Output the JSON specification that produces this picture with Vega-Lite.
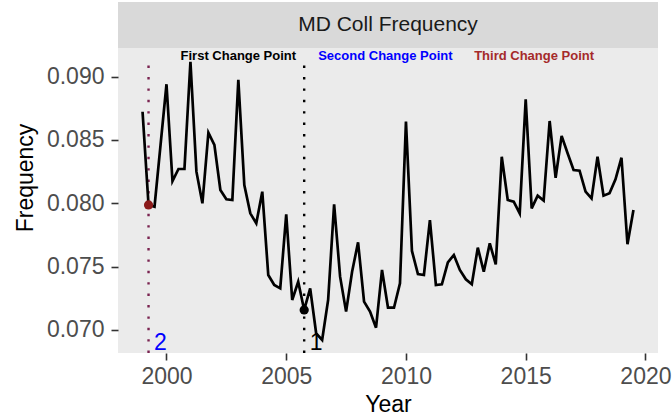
{
  "$schema": "https://vega.github.io/schema/vega-lite/v6.json",
  "autosize": {"type": "none"},
  "padding": {"left": 118, "top": 2, "right": 14, "bottom": 65},
  "width": 540,
  "height": 351,
  "background": "white",
  "view": {"fill": "#EBEBEB", "stroke": null},
  "config": {
    "font": "Liberation Sans",
    "text": {"font": "Liberation Sans"},
    "axis": {
      "domain": false,
      "gridColor": "white",
      "gridOpacity": 1,
      "tickColor": "#333333",
      "tickSize": 7,
      "tickWidth": 1.6,
      "labelColor": "#4D4D4D",
      "labelFontSize": 23,
      "labelFont": "Liberation Sans",
      "titleFont": "Liberation Sans",
      "titleFontSize": 23,
      "titleFontWeight": "normal",
      "titleColor": "black"
    }
  },
  "datasets": {
    "series": [
      {"year": 1999.00, "freq": 0.08723}, {"year": 1999.25, "freq": 0.07987}, {"year": 1999.50, "freq": 0.07973}, {"year": 1999.75, "freq": 0.08458},
      {"year": 2000.00, "freq": 0.08940}, {"year": 2000.25, "freq": 0.08176}, {"year": 2000.50, "freq": 0.08271}, {"year": 2000.75, "freq": 0.08271},
      {"year": 2001.00, "freq": 0.09118}, {"year": 2001.25, "freq": 0.08250}, {"year": 2001.50, "freq": 0.08000}, {"year": 2001.75, "freq": 0.08558},
      {"year": 2002.00, "freq": 0.08461}, {"year": 2002.25, "freq": 0.08105}, {"year": 2002.50, "freq": 0.08032}, {"year": 2002.75, "freq": 0.08026},
      {"year": 2003.00, "freq": 0.08974}, {"year": 2003.25, "freq": 0.08145}, {"year": 2003.50, "freq": 0.07921}, {"year": 2003.75, "freq": 0.07842},
      {"year": 2004.00, "freq": 0.08092}, {"year": 2004.25, "freq": 0.07434}, {"year": 2004.50, "freq": 0.07355}, {"year": 2004.75, "freq": 0.07329},
      {"year": 2005.00, "freq": 0.07913}, {"year": 2005.25, "freq": 0.07237}, {"year": 2005.50, "freq": 0.07381}, {"year": 2005.75, "freq": 0.07158},
      {"year": 2006.00, "freq": 0.07329}, {"year": 2006.25, "freq": 0.06974}, {"year": 2006.50, "freq": 0.06921}, {"year": 2006.75, "freq": 0.07237},
      {"year": 2007.00, "freq": 0.07992}, {"year": 2007.25, "freq": 0.07421}, {"year": 2007.50, "freq": 0.07145}, {"year": 2007.75, "freq": 0.07460},
      {"year": 2008.00, "freq": 0.07692}, {"year": 2008.25, "freq": 0.07224}, {"year": 2008.50, "freq": 0.07145}, {"year": 2008.75, "freq": 0.07018},
      {"year": 2009.00, "freq": 0.07474}, {"year": 2009.25, "freq": 0.07176}, {"year": 2009.50, "freq": 0.07176}, {"year": 2009.75, "freq": 0.07368},
      {"year": 2010.00, "freq": 0.08645}, {"year": 2010.25, "freq": 0.07624}, {"year": 2010.50, "freq": 0.07442}, {"year": 2010.75, "freq": 0.07434},
      {"year": 2011.00, "freq": 0.07868}, {"year": 2011.25, "freq": 0.07355}, {"year": 2011.50, "freq": 0.07361}, {"year": 2011.75, "freq": 0.07534},
      {"year": 2012.00, "freq": 0.07592}, {"year": 2012.25, "freq": 0.07474}, {"year": 2012.50, "freq": 0.07400}, {"year": 2012.75, "freq": 0.07361},
      {"year": 2013.00, "freq": 0.07650}, {"year": 2013.25, "freq": 0.07460}, {"year": 2013.50, "freq": 0.07684}, {"year": 2013.75, "freq": 0.07518},
      {"year": 2014.00, "freq": 0.08368}, {"year": 2014.25, "freq": 0.08026}, {"year": 2014.50, "freq": 0.08013}, {"year": 2014.75, "freq": 0.07921},
      {"year": 2015.00, "freq": 0.08821}, {"year": 2015.25, "freq": 0.07960}, {"year": 2015.50, "freq": 0.08060}, {"year": 2015.75, "freq": 0.08021},
      {"year": 2016.00, "freq": 0.08650}, {"year": 2016.25, "freq": 0.08202}, {"year": 2016.50, "freq": 0.08532}, {"year": 2016.75, "freq": 0.08395},
      {"year": 2017.00, "freq": 0.08263}, {"year": 2017.25, "freq": 0.08258}, {"year": 2017.50, "freq": 0.08092}, {"year": 2017.75, "freq": 0.08039},
      {"year": 2018.00, "freq": 0.08368}, {"year": 2018.25, "freq": 0.08060}, {"year": 2018.50, "freq": 0.08079}, {"year": 2018.75, "freq": 0.08190},
      {"year": 2019.00, "freq": 0.08360}, {"year": 2019.25, "freq": 0.07677}, {"year": 2019.50, "freq": 0.07947}
    ]
  },
  "layer": [
    {
      "data": {"values": [{"panel": "MD Coll Frequency"}]},
      "mark": {"type": "rect", "fill": "#D9D9D9"},
      "encoding": {
        "x": {"datum": 1997.975, "type": "quantitative",
          "scale": {"domain": [1997.975, 2020.525], "nice": false, "zero": false},
          "title": "Year",
          "axis": {
            "values": [2000, 2002.5, 2005, 2007.5, 2010, 2012.5, 2015, 2017.5, 2020],
            "format": "d",
            "labelExpr": "datum.value % 5 === 0 ? datum.label : ''",
            "gridWidth": {"condition": {"test": "datum.value % 5 === 0", "value": 1.6}, "value": 0.8},
            "tickOpacity": {"condition": {"test": "datum.value % 5 === 0", "value": 1}, "value": 0},
            "labelPadding": 5,
            "titlePadding": 5
          }
        },
        "x2": {"datum": 2020.525},
        "y": {"datum": 0.09226, "type": "quantitative",
          "scale": {"domain": [0.068184, 0.095893], "nice": false, "zero": false},
          "title": "Frequency",
          "axis": {
            "values": [0.07, 0.0725, 0.075, 0.0775, 0.08, 0.0825, 0.085, 0.0875, 0.09],
            "format": ".3f",
            "labelExpr": "round(datum.value * 10000) % 50 === 0 ? datum.label : ''",
            "gridWidth": {"condition": {"test": "round(datum.value * 10000) % 50 === 0", "value": 1.6}, "value": 0.8},
            "tickOpacity": {"condition": {"test": "round(datum.value * 10000) % 50 === 0", "value": 1}, "value": 0},
            "labelPadding": 7,
            "titlePadding": 9
          }
        },
        "y2": {"datum": 0.095893}
      }
    },
    {
      "data": {"values": [{"panel": "MD Coll Frequency"}]},
      "mark": {"type": "text", "fontSize": 21, "color": "#1A1A1A", "baseline": "middle", "align": "center", "font": "Liberation Sans"},
      "encoding": {
        "x": {"datum": 2009.25, "type": "quantitative", "title": "Year"},
        "y": {"datum": 0.094075, "type": "quantitative", "title": "Frequency"},
        "text": {"field": "panel"}
      }
    },
    {
      "data": {"values": [{"year": 1999.25}]},
      "mark": {"type": "rule", "color": "#7A2350", "strokeWidth": 2.4, "strokeDash": [2.4, 9]},
      "encoding": {
        "x": {"field": "year", "type": "quantitative", "title": "Year"},
        "y": {"datum": 0.068184, "type": "quantitative", "title": "Frequency"},
        "y2": {"datum": 0.0912}
      }
    },
    {
      "data": {"values": [{"year": 2005.75}]},
      "mark": {"type": "rule", "color": "black", "strokeWidth": 2.4, "strokeDash": [2.4, 9]},
      "encoding": {
        "x": {"field": "year", "type": "quantitative", "title": "Year"},
        "y": {"datum": 0.068184, "type": "quantitative", "title": "Frequency"},
        "y2": {"datum": 0.0912}
      }
    },
    {
      "data": {"name": "series"},
      "mark": {"type": "line", "color": "black", "strokeWidth": 2.7, "strokeJoin": "miter"},
      "encoding": {
        "x": {"field": "year", "type": "quantitative", "title": "Year"},
        "y": {"field": "freq", "type": "quantitative", "title": "Frequency"}
      }
    },
    {
      "data": {"values": [{"year": 1999.25, "freq": 0.07987}]},
      "mark": {"type": "point", "filled": true, "color": "#8B1A1A", "size": 85, "opacity": 1},
      "encoding": {
        "x": {"field": "year", "type": "quantitative", "title": "Year"},
        "y": {"field": "freq", "type": "quantitative", "title": "Frequency"}
      }
    },
    {
      "data": {"values": [{"year": 2005.75, "freq": 0.07158}]},
      "mark": {"type": "point", "filled": true, "color": "black", "size": 85, "opacity": 1},
      "encoding": {
        "x": {"field": "year", "type": "quantitative", "title": "Year"},
        "y": {"field": "freq", "type": "quantitative", "title": "Frequency"}
      }
    },
    {
      "data": {"values": [{"year": 1999.75, "freq": 0.06842, "label": "2"}]},
      "mark": {"type": "text", "fontSize": 23, "color": "blue", "baseline": "alphabetic", "align": "center", "font": "Liberation Sans"},
      "encoding": {
        "x": {"field": "year", "type": "quantitative", "title": "Year"},
        "y": {"field": "freq", "type": "quantitative", "title": "Frequency"},
        "text": {"field": "label"}
      }
    },
    {
      "data": {"values": [{"year": 2006.25, "freq": 0.06842, "label": "1"}]},
      "mark": {"type": "text", "fontSize": 23, "color": "black", "baseline": "alphabetic", "align": "center", "font": "Liberation Sans"},
      "encoding": {
        "x": {"field": "year", "type": "quantitative", "title": "Year"},
        "y": {"field": "freq", "type": "quantitative", "title": "Frequency"},
        "text": {"field": "label"}
      }
    },
    {
      "data": {"values": [{"year": 2003.0, "freq": 0.09128, "label": "First Change Point"}]},
      "mark": {"type": "text", "fontSize": 13, "fontWeight": "bold", "color": "black", "baseline": "alphabetic", "align": "center", "font": "Liberation Sans"},
      "encoding": {
        "x": {"field": "year", "type": "quantitative", "title": "Year"},
        "y": {"field": "freq", "type": "quantitative", "title": "Frequency"},
        "text": {"field": "label"}
      }
    },
    {
      "data": {"values": [{"year": 2009.14, "freq": 0.09128, "label": "Second Change Point"}]},
      "mark": {"type": "text", "fontSize": 13, "fontWeight": "bold", "color": "blue", "baseline": "alphabetic", "align": "center", "font": "Liberation Sans"},
      "encoding": {
        "x": {"field": "year", "type": "quantitative", "title": "Year"},
        "y": {"field": "freq", "type": "quantitative", "title": "Frequency"},
        "text": {"field": "label"}
      }
    },
    {
      "data": {"values": [{"year": 2015.35, "freq": 0.09128, "label": "Third Change Point"}]},
      "mark": {"type": "text", "fontSize": 13, "fontWeight": "bold", "color": "#A52A2A", "baseline": "alphabetic", "align": "center", "font": "Liberation Sans"},
      "encoding": {
        "x": {"field": "year", "type": "quantitative", "title": "Year"},
        "y": {"field": "freq", "type": "quantitative", "title": "Frequency"},
        "text": {"field": "label"}
      }
    }
  ]
}
